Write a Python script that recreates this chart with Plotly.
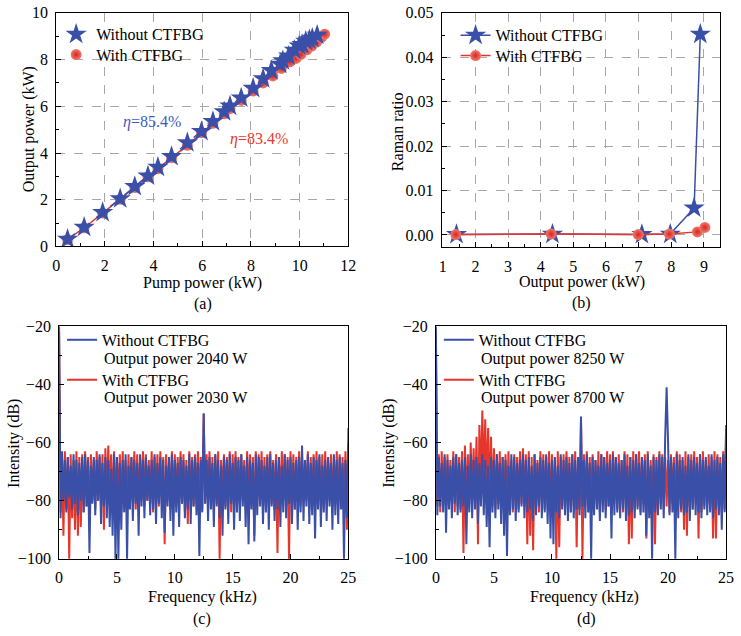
import plotly.graph_objects as go

W, H = 741, 636
FONT = "Liberation Serif, Times New Roman, serif"
BLUE = "#3a4fa8"
RED = "#e6352a"

# ---------- (a) output power vs pump power ----------
a_pump_wo = [0.47, 1.15, 1.91, 2.63, 3.23, 3.77, 4.18, 4.74, 5.39, 5.97, 6.44, 6.90, 7.14, 7.60,
             8.09, 8.50, 8.84, 9.20, 9.31, 9.55, 9.78, 9.98, 10.10, 10.25, 10.40, 10.52, 10.72]
a_out_wo = [0.31, 0.82, 1.46, 2.04, 2.57, 3.02, 3.39, 3.85, 4.44, 4.92, 5.35, 5.77, 6.01, 6.36,
            6.77, 7.18, 7.53, 7.80, 7.95, 8.15, 8.40, 8.58, 8.65, 8.79, 8.85, 8.92, 9.04]
a_pump_w = [0.47, 1.15, 1.91, 2.63, 3.23, 3.77, 4.18, 4.74, 5.39, 5.97, 6.44, 6.90, 7.14, 7.60,
            8.09, 8.50, 8.90, 9.25, 9.60, 9.85, 10.05, 10.30, 10.50, 10.70, 10.90, 11.03]
a_out_w = [0.30, 0.80, 1.43, 2.02, 2.52, 2.98, 3.33, 3.80, 4.33, 4.87, 5.27, 5.68, 5.90, 6.25,
           6.65, 7.00, 7.30, 7.62, 7.90, 8.05, 8.22, 8.42, 8.58, 8.75, 8.95, 9.09]

# ---------- (b) Raman ratio ----------
b_out_wo = [1.42, 4.36, 7.10, 7.97, 8.70, 8.89]
b_ratio_wo = [0.0001, 0.0002, 0.0001, 0.0002, 0.0061, 0.0452]
b_out_w = [1.40, 4.32, 6.99, 7.94, 8.80, 9.03]
b_ratio_w = [0.0001, 0.0002, 0.0001, 0.0002, 0.0007, 0.0017]

# ---------- (c),(d) spectra: upper (even samples) and lower (odd samples) readings ----------
freq = [i * 0.125 for i in range(201)]

c_blue_hi = [-20, -63, -66, -65, -68, -64, -66, -67, -65, -64,
             -66, -68, -65, -66, -64, -67, -65, -66, -69, -64,
             -65, -67, -66, -64, -68, -65, -66, -67, -64, -66,
             -65, -68, -66, -64, -67, -65, -66, -68, -65, -64,
             -66, -67, -65, -66, -68, -64, -66, -65, -67, -66,
             -50, -66, -65, -67, -64, -66, -68, -65, -66, -64,
             -67, -65, -66, -64, -68, -65, -66, -67, -64, -65,
             -66, -68, -65, -64, -67, -66, -65, -68, -64, -66,
             -65, -67, -66, -65, -61, -66, -64, -67, -65, -66,
             -64, -68, -66, -65, -67, -64, -66, -65, -67, -66, -60]
c_blue_lo = [-86, -80, -84, -79, -83, -81, -85, -80, -84, -82,
             -98, -81, -85, -80, -88, -82, -86, -89, -92, -100,
             -100, -90, -84, -100, -83, -87, -81, -92, -82, -86,
             -80, -85, -83, -88, -81, -86, -91, -82, -87, -92,
             -84, -89, -81, -86, -83, -88, -82, -85, -99, -84,
             -81, -87, -83, -89, -82, -86, -92, -83, -88, -81,
             -90, -84, -87, -82, -89, -95, -83, -94, -85, -82,
             -88, -84, -90, -82, -87, -83, -89, -84, -86, -81,
             -88, -83, -90, -84, -87, -82, -88, -85, -93, -83,
             -89, -84, -87, -82, -90, -85, -88, -83, -100, -86]
c_red_hi = [-22, -64, -63, -65, -64, -66, -63, -65, -64, -63,
            -65, -64, -66, -63, -65, -64, -62, -61, -64, -63,
            -65, -64, -63, -66, -64, -65, -63, -64, -65, -63,
            -64, -66, -63, -65, -64, -63, -65, -64, -66, -63,
            -64, -65, -63, -64, -66, -63, -65, -64, -63, -65,
            -50, -64, -63, -65, -64, -63, -66, -64, -65, -63,
            -64, -63, -65, -64, -66, -63, -64, -65, -63, -64,
            -63, -65, -64, -63, -66, -64, -65, -63, -64, -65,
            -63, -64, -65, -63, -64, -66, -63, -65, -64, -63,
            -65, -64, -63, -66, -64, -65, -63, -64, -65, -63, -55]
c_red_lo = [-84, -92, -83, -100, -86, -90, -92, -89, -84, -82,
            -86, -80, -83, -80, -82, -90, -81, -80, -83, -82,
            -80, -84, -80, -82, -81, -80, -83, -81, -80, -82,
            -80, -81, -84, -80, -82, -81, -95, -80, -83, -81,
            -82, -80, -81, -84, -88, -80, -82, -81, -80, -83,
            -81, -80, -82, -83, -81, -100, -80, -82, -81, -84,
            -80, -82, -81, -80, -83, -81, -80, -92, -82, -81,
            -83, -80, -82, -81, -83, -98, -81, -80, -82, -100,
            -81, -83, -80, -82, -81, -80, -83, -82, -81, -80,
            -82, -83, -81, -80, -82, -81, -83, -80, -82, -90]

d_blue_hi = [-20, -65, -67, -64, -66, -68, -65, -64, -67, -66,
             -65, -68, -64, -66, -65, -67, -64, -66, -68, -65,
             -66, -64, -67, -65, -66, -68, -64, -65, -67, -66,
             -64, -66, -65, -68, -64, -67, -65, -66, -64, -67,
             -66, -65, -68, -64, -66, -65, -67, -64, -66, -65,
             -51, -66, -64, -67, -65, -66, -68, -64, -65, -67,
             -66, -64, -65, -67, -66, -64, -68, -65, -66, -64,
             -67, -65, -66, -64, -68, -65, -66, -64, -65, -58,
             -60, -65, -67, -64, -66, -65, -68, -64, -66, -65,
             -67, -64, -66, -65, -68, -64, -66, -65, -67, -64, -54]
d_blue_lo = [-85, -82, -84, -91, -83, -86, -81, -85, -84, -82,
             -95, -84, -86, -83, -88, -82, -85, -89, -96, -84,
             -86, -83, -88, -92, -99, -85, -83, -87, -84, -82,
             -86, -84, -83, -87, -85, -82, -86, -84, -88, -93,
             -95, -84, -86, -83, -85, -87, -84, -86, -83, -85,
             -82, -86, -84, -100, -85, -83, -87, -84, -86, -82,
             -93, -85, -84, -86, -83, -87, -85, -84, -86, -83,
             -85, -84, -92, -86, -100, -84, -85, -83, -86, -41,
             -85, -84, -100, -86, -83, -85, -84, -87, -83, -85,
             -84, -86, -83, -85, -84, -86, -83, -85, -90, -84]
d_red_hi = [-22, -64, -63, -65, -64, -66, -63, -64, -65, -63,
            -61, -64, -60, -62, -58, -54, -49, -52, -55, -58,
            -62, -64, -63, -65, -64, -63, -66, -64, -65, -63,
            -62, -64, -63, -65, -64, -66, -63, -64, -65, -63,
            -64, -66, -63, -65, -64, -63, -65, -64, -63, -65,
            -52, -64, -63, -65, -64, -66, -63, -64, -65, -63,
            -64, -63, -65, -64, -66, -63, -64, -65, -63, -64,
            -63, -65, -64, -63, -66, -64, -65, -63, -64, -65,
            -66, -64, -65, -63, -64, -66, -63, -65, -64, -63,
            -65, -64, -63, -66, -64, -65, -63, -64, -65, -63, -56]
d_red_lo = [-82, -84, -81, -83, -82, -80, -84, -82, -83, -98,
            -82, -81, -80, -80, -95, -75, -73, -76, -80, -82,
            -83, -81, -84, -82, -83, -81, -84, -82, -83, -81,
            -82, -95, -92, -97, -82, -84, -81, -83, -82, -84,
            -81, -100, -96, -82, -83, -81, -84, -82, -96, -83,
            -100, -82, -84, -81, -83, -82, -84, -81, -83, -82,
            -84, -81, -83, -82, -84, -81, -95, -93, -83, -82,
            -84, -81, -93, -83, -82, -95, -84, -81, -83, -82,
            -84, -81, -83, -82, -84, -90, -92, -82, -83, -81,
            -93, -84, -82, -81, -83, -93, -93, -82, -84, -83]


def merge(hi, lo):
    out = []
    for h, l in zip(hi, lo):
        out += [h, l]
    out.append(hi[-1])
    return out


def px(x):
    return x / W


def py(y):
    return 1 - y / H


fig = go.Figure()

red_marker = dict(symbol="circle", size=11, color="#f07a70",
                  gradient=dict(type="radial", color="#d8261c"), line=dict(width=0))
star_marker = dict(symbol="star", size=16, color=BLUE, line=dict(width=0))

# (a)
fig.add_trace(go.Scatter(x=a_pump_w, y=a_out_w, mode="lines", line=dict(color=RED, width=1.5),
                         xaxis="x", yaxis="y", showlegend=False, hoverinfo="skip"))
fig.add_trace(go.Scatter(x=a_pump_w, y=a_out_w, mode="markers", marker=red_marker,
                         name="With CTFBG", xaxis="x", yaxis="y", legend="legend2"))
fig.add_trace(go.Scatter(x=a_pump_wo, y=a_out_wo, mode="lines", line=dict(color=BLUE, width=1.5, dash="dash"),
                         xaxis="x", yaxis="y", showlegend=False, hoverinfo="skip"))
fig.add_trace(go.Scatter(x=a_pump_wo, y=a_out_wo, mode="markers", marker=star_marker,
                         name="Without CTFBG", xaxis="x", yaxis="y", legend="legend"))

# (b)
fig.add_trace(go.Scatter(x=b_out_wo, y=b_ratio_wo, mode="lines+markers", line=dict(color=BLUE, width=1.5),
                         marker=star_marker, name="Without CTFBG", xaxis="x2", yaxis="y2", legend="legend3"))
fig.add_trace(go.Scatter(x=b_out_w, y=b_ratio_w, mode="lines+markers", line=dict(color=RED, width=1.5),
                         marker=red_marker, name="With CTFBG", xaxis="x2", yaxis="y2", legend="legend4"))

SPW = 2.0
# (c)
fig.add_trace(go.Scatter(x=freq, y=merge(c_red_hi, c_red_lo), mode="lines", line=dict(color=RED, width=SPW),
                         name="With CTFBG", xaxis="x3", yaxis="y3", legend="legend6"))
fig.add_trace(go.Scatter(x=freq, y=merge(c_blue_hi, c_blue_lo), mode="lines", line=dict(color=BLUE, width=SPW),
                         name="Without CTFBG", xaxis="x3", yaxis="y3", legend="legend5"))
# (d)
fig.add_trace(go.Scatter(x=freq, y=merge(d_red_hi, d_red_lo), mode="lines", line=dict(color=RED, width=SPW),
                         name="With CTFBG", xaxis="x4", yaxis="y4", legend="legend8"))
fig.add_trace(go.Scatter(x=freq, y=merge(d_blue_hi, d_blue_lo), mode="lines", line=dict(color=BLUE, width=SPW),
                         name="Without CTFBG", xaxis="x4", yaxis="y4", legend="legend7"))

tickfont = dict(family=FONT, size=16, color="black")


def axis(domain, rng, dtick, minor_dtick, anchor, grid, fmt=None):
    d = dict(domain=domain, range=rng, dtick=dtick, tick0=0, anchor=anchor,
             showline=True, linecolor="black", linewidth=1, mirror=True,
             ticks="inside", ticklen=5, tickwidth=1, tickcolor="black",
             tickfont=tickfont, zeroline=False, ticklabelstandoff=4,
             showgrid=grid, gridcolor="#a8a8a8", griddash="dash", gridwidth=1,
             minor=dict(dtick=minor_dtick, ticks="inside", ticklen=3, tickcolor="black", showgrid=False))
    if fmt:
        d["tickformat"] = fmt
    return d


xa = [px(53), px(350)]
ya = [py(245), py(5)]
xb = [px(445), px(728)]
yb = [py(246), py(5)]
xc = [px(56), px(350)]
yc = [py(566), py(327)]
xd = [px(439), px(734)]
yd = [py(566), py(327)]

layout = dict(
    width=W, height=H, margin=dict(l=0, r=0, t=0, b=0),
    paper_bgcolor="white", plot_bgcolor="white",
    font=dict(family=FONT, size=16, color="black"),
    xaxis=axis(xa, [0, 12], 2, 1, "y", True),
    yaxis=axis(ya, [0, 10], 2, 1, "x", True),
    xaxis2=axis(xb, [0.97, 9.5], 1, 0.5, "y2", True),
    yaxis2=axis(yb, [-0.0028, 0.05], 0.01, 0.005, "x2", True, ".2f"),
    xaxis3=axis(xc, [0, 25], 5, 2.5, "y3", False),
    yaxis3=axis(yc, [-100, -20], 20, 10, "x3", False),
    xaxis4=axis(xd, [0, 25], 5, 2.5, "y4", False),
    yaxis4=axis(yd, [-100, -20], 20, 10, "x4", False),
)


def leg(x, y):
    return dict(x=px(x), y=py(y), xanchor="left", yanchor="middle", bgcolor="rgba(0,0,0,0)",
                borderwidth=0, font=dict(family=FONT, size=16, color="black"),
                itemsizing="trace", tracegroupgap=0)


layout["legend"] = leg(53, 27)
layout["legend2"] = leg(53, 48)
layout["legend3"] = leg(459, 28)
layout["legend4"] = leg(459, 49)
layout["legend5"] = leg(59, 341)
layout["legend6"] = leg(59, 382)
layout["legend7"] = leg(442, 341)
layout["legend8"] = leg(442, 382)

ann = []


def text(x, y, s, angle=0, color="black", size=16, anchor="center"):
    ann.append(dict(x=px(x), y=py(y), xref="paper", yref="paper", text=s, showarrow=False,
                    xanchor=anchor, yanchor="middle", textangle=angle,
                    font=dict(family=FONT, size=size, color=color)))


text(202, 283, "Pump power (kW)")
text(202, 304, "(a)")
text(25, 125, "Output power (kW)", -90)
text(588, 282, "Output power (kW)")
text(587, 303, "(b)")
text(400, 127, "Raman ratio", -90)
text(202, 605, "Frequency (kHz)")
text(201, 628, "(c)")
text(10, 447, "Intensity (dB)", -90)
text(590, 605, "Frequency (kHz)")
text(592, 628, "(d)")
text(391, 447, "Intensity (dB)", -90)
text(150, 117, "<i>η</i>=85.4%", color="#3d5cc0")
text(259, 135, "<i>η</i>=83.4%", color="#e8392c")
text(100, 361, "Output power 2040 W", anchor="left")
text(100, 401, "Output power 2030 W", anchor="left")
text(483, 361, "Output power 8250 W", anchor="left")
text(483, 401, "Output power 8700 W", anchor="left")

layout["annotations"] = ann
fig.update_layout(**layout)
fig.write_html("out.html")
